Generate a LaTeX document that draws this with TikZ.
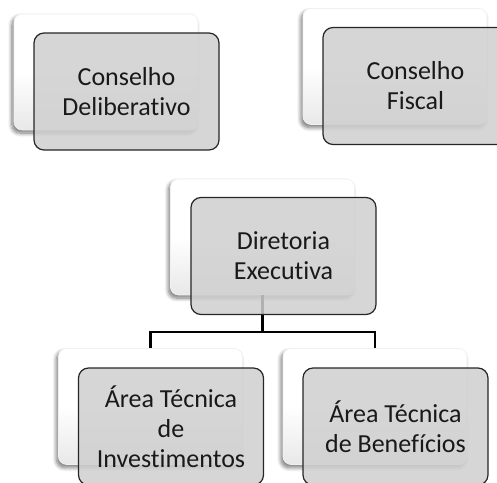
\documentclass[tikz,border=0pt]{standalone}
\usepackage{fontspec}
\setmainfont{Carlito}[Ligatures={NoCommon}]
\usetikzlibrary{shadows.blur}
\tikzset{
  backbox/.style={rounded corners=8pt, minimum width=184pt, minimum height=116pt,
    top color=white, bottom color=gray!18, middle color=white, draw=black!6, line width=0.6pt,
    blur shadow={shadow xshift=-2pt, shadow yshift=-3pt, shadow blur radius=4pt, shadow blur steps=8, shadow opacity=55}},
  frontbox/.style={rounded corners=10pt, minimum width=185pt, minimum height=117pt,
    fill=gray!38, fill opacity=0.85, text opacity=1, draw=black!85, line width=1.2pt,
    align=center, font=\fontsize{26}{30}\selectfont, text=black!90},
  conn/.style={line width=2.2pt, black}
}
\begin{document}
\begin{tikzpicture}[x=1pt,y=-1pt]
\useasboundingbox (0,0) rectangle (497,482);
\node[backbox] (cdb) at (106,72) {};
\node[backbox] (cfb) at (395,66.5) {};
\node[backbox] (deb) at (262.5,237) {};
\node[backbox] (atib) at (150.5,406.5) {};
\node[backbox] (atbb) at (375,406.5) {};
\coordinate (bus) at (0,332);
\draw[conn] (deb.south) -- (deb.south |- bus) -| (atib.north);
\draw[conn] (deb.south |- bus) -| (atbb.north);
\node[frontbox] (cd) at (126.5,91.5) {Conselho\\Deliberativo};
\node[frontbox] (cf) at (415.5,86) {Conselho\\Fiscal};
\node[frontbox] (de) at (283.5,256) {Diretoria\\Executiva};
\node[frontbox] (ati) at (171,426.5) {Área Técnica\\de\\Investimentos};
\node[frontbox] (atb) at (395.5,426.5) {Área Técnica\\de Benefícios};
\end{tikzpicture}
\end{document}
